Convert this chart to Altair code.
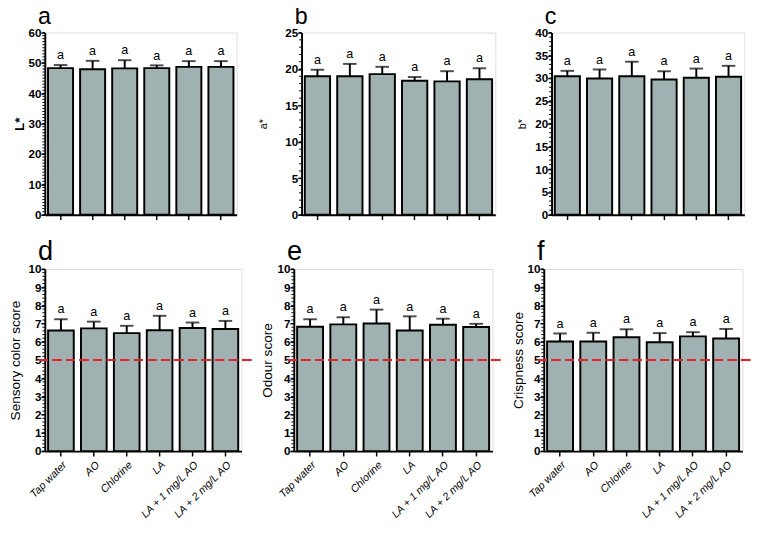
import altair as alt
import pandas as pd

cats = ["Tap water", "AO", "Chlorine", "LA", "LA + 1 mg/L AO", "LA + 2 mg/L AO"]
groups = ["a", "a", "a", "a", "a", "a"]
panel_letters = ["a", "b", "c", "d", "e", "f"]

L_mean = [48.3, 47.9, 48.2, 48.3, 48.7, 48.7]
L_err = [1.0, 2.8, 2.7, 0.9, 1.9, 1.9]
a_mean = [19.0, 19.0, 19.3, 18.4, 18.3, 18.6]
a_err = [0.9, 1.7, 1.0, 0.5, 1.4, 1.5]
b_mean = [30.4, 29.9, 30.4, 29.7, 30.1, 30.3]
b_err = [1.2, 2.0, 3.2, 1.8, 2.0, 2.4]
color_mean = [6.62, 6.74, 6.48, 6.64, 6.76, 6.71]
color_err = [0.62, 0.37, 0.40, 0.79, 0.30, 0.44]
odour_mean = [6.83, 6.96, 7.01, 6.62, 6.94, 6.81]
odour_err = [0.41, 0.39, 0.76, 0.78, 0.33, 0.18]
crisp_mean = [6.02, 6.02, 6.25, 5.98, 6.30, 6.18]
crisp_err = [0.44, 0.48, 0.44, 0.50, 0.23, 0.53]

threshold = 5

BAR = "#a0b1b1"
RED = "#e8202a"
NARROW = "Liberation Sans Narrow, Arial Narrow, Liberation Sans, Arial"
SANS = "Liberation Sans, Arial"


def panel(mean, err, ymax, major, minor_per_major, ytitle, tsize, tweight, tpad,
          letter, lsize, width, height, bottom, show_threshold):
    df = pd.DataFrame({"cat": cats, "mean": mean, "err": err, "grp": groups})
    base = alt.Chart(df).transform_calculate(upper="datum.mean + datum.err")
    nmaj = int(round(ymax / major))
    major_vals = [i * major for i in range(nmaj + 1)]
    nmin = nmaj * minor_per_major
    minor_vals = [round(i * major / minor_per_major, 4) for i in range(nmin + 1)]
    xaxis = alt.Axis(
        title=None, labels=bottom, labelAngle=-45, labelAlign="right",
        labelBaseline="top", labelFontStyle="italic", labelFont=SANS,
        labelFontSize=11, labelColor="black", labelPadding=3,
        domainColor="black", domainWidth=2, tickColor="black",
        tickWidth=1.5, tickSize=5,
    )
    yaxis = alt.Axis(
        title=ytitle, titleFontSize=tsize, titleFontWeight=tweight,
        titleFont=SANS, titleColor="black", titlePadding=tpad,
        values=major_vals, grid=False, format="d", labelOverlap=False,
        labelFont=NARROW, labelFontSize=12, labelFontWeight="bold",
        labelColor="black", labelPadding=0,
        minExtent=17, maxExtent=17,
        domainColor="black", domainWidth=2, tickColor="black", tickWidth=1.5,
        tickSize=4,
    )
    x = alt.X("cat:N", sort=cats,
              scale=alt.Scale(paddingInner=0.22, paddingOuter=0.1), axis=xaxis)
    yscale = alt.Scale(domain=[0, ymax], nice=False)
    minor = alt.Chart(pd.DataFrame({"v": minor_vals})).mark_rule(
        color="black", strokeWidth=1).encode(
        y=alt.Y("v:Q", scale=yscale, axis=yaxis),
        x=alt.value(-2.5), x2=alt.value(0))
    bars = base.mark_bar(fill=BAR, stroke="black", strokeWidth=2).encode(
        x=x, y=alt.Y("mean:Q", scale=yscale, axis=yaxis))
    rule = base.mark_rule(color="black", strokeWidth=2).encode(
        x=x, y=alt.Y("mean:Q", scale=yscale, axis=yaxis), y2="upper:Q")
    cap = base.mark_tick(color="black", thickness=2, size=14).encode(
        x=x, y=alt.Y("upper:Q", scale=yscale, axis=yaxis))
    txt = base.mark_text(baseline="bottom", dy=-3, fontSize=13, font=NARROW,
                         color="black").encode(
        x=x, y=alt.Y("upper:Q", scale=yscale, axis=yaxis), text="grp:N")
    tag = alt.Chart(pd.DataFrame({"lab": [letter]})).mark_text(
        align="left", baseline="alphabetic", fontSize=lsize, font=SANS,
        color="black").encode(
        text="lab:N", x=alt.value(-7), y=alt.value(-9))
    layers = [bars, minor, rule, cap, txt, tag]
    if show_threshold:
        line = base.mark_rule(
            color=RED, strokeWidth=2, strokeDash=[9, 5]).encode(
            y=alt.YDatum(threshold, scale=yscale, axis=yaxis), x=alt.value(-6),
            x2=alt.value(width + 11))
        layers.append(line)
    return alt.layer(*layers).properties(width=width, height=height)


H = 188
top = alt.hconcat(
    panel(L_mean, L_err, 60, 10, 10, "L*", 14, "bold", 2, panel_letters[0], 24, 198, H, False, False),
    panel(a_mean, a_err, 25, 5, 5, "a*", 11, "normal", 17, panel_letters[1], 24, 200, H, False, False),
    panel(b_mean, b_err, 40, 5, 5, "b*", 11, "normal", 8, panel_letters[2], 24, 199, H, False, False),
    spacing=20,
)
bot = alt.hconcat(
    panel(color_mean, color_err, 10, 1, 5, "Sensory color score", 14, "normal", 6, panel_letters[3], 28, 203, H, True, True),
    panel(odour_mean, odour_err, 10, 1, 5, "Odour score", 14, "normal", 3, panel_letters[4], 28, 205, H, True, True),
    panel(crisp_mean, crisp_err, 10, 1, 5, "Crispness score", 14, "normal", 2, panel_letters[5], 28, 205, H, True, True),
    spacing=6,
)
chart = alt.vconcat(top, bot, spacing=17).properties(
    padding={"top": -12, "left": 0, "right": 0, "bottom": 0}).configure_view(
    strokeWidth=0).configure(background="white")

chart.save("out.html", embed_options={"renderer": "svg", "actions": False})
